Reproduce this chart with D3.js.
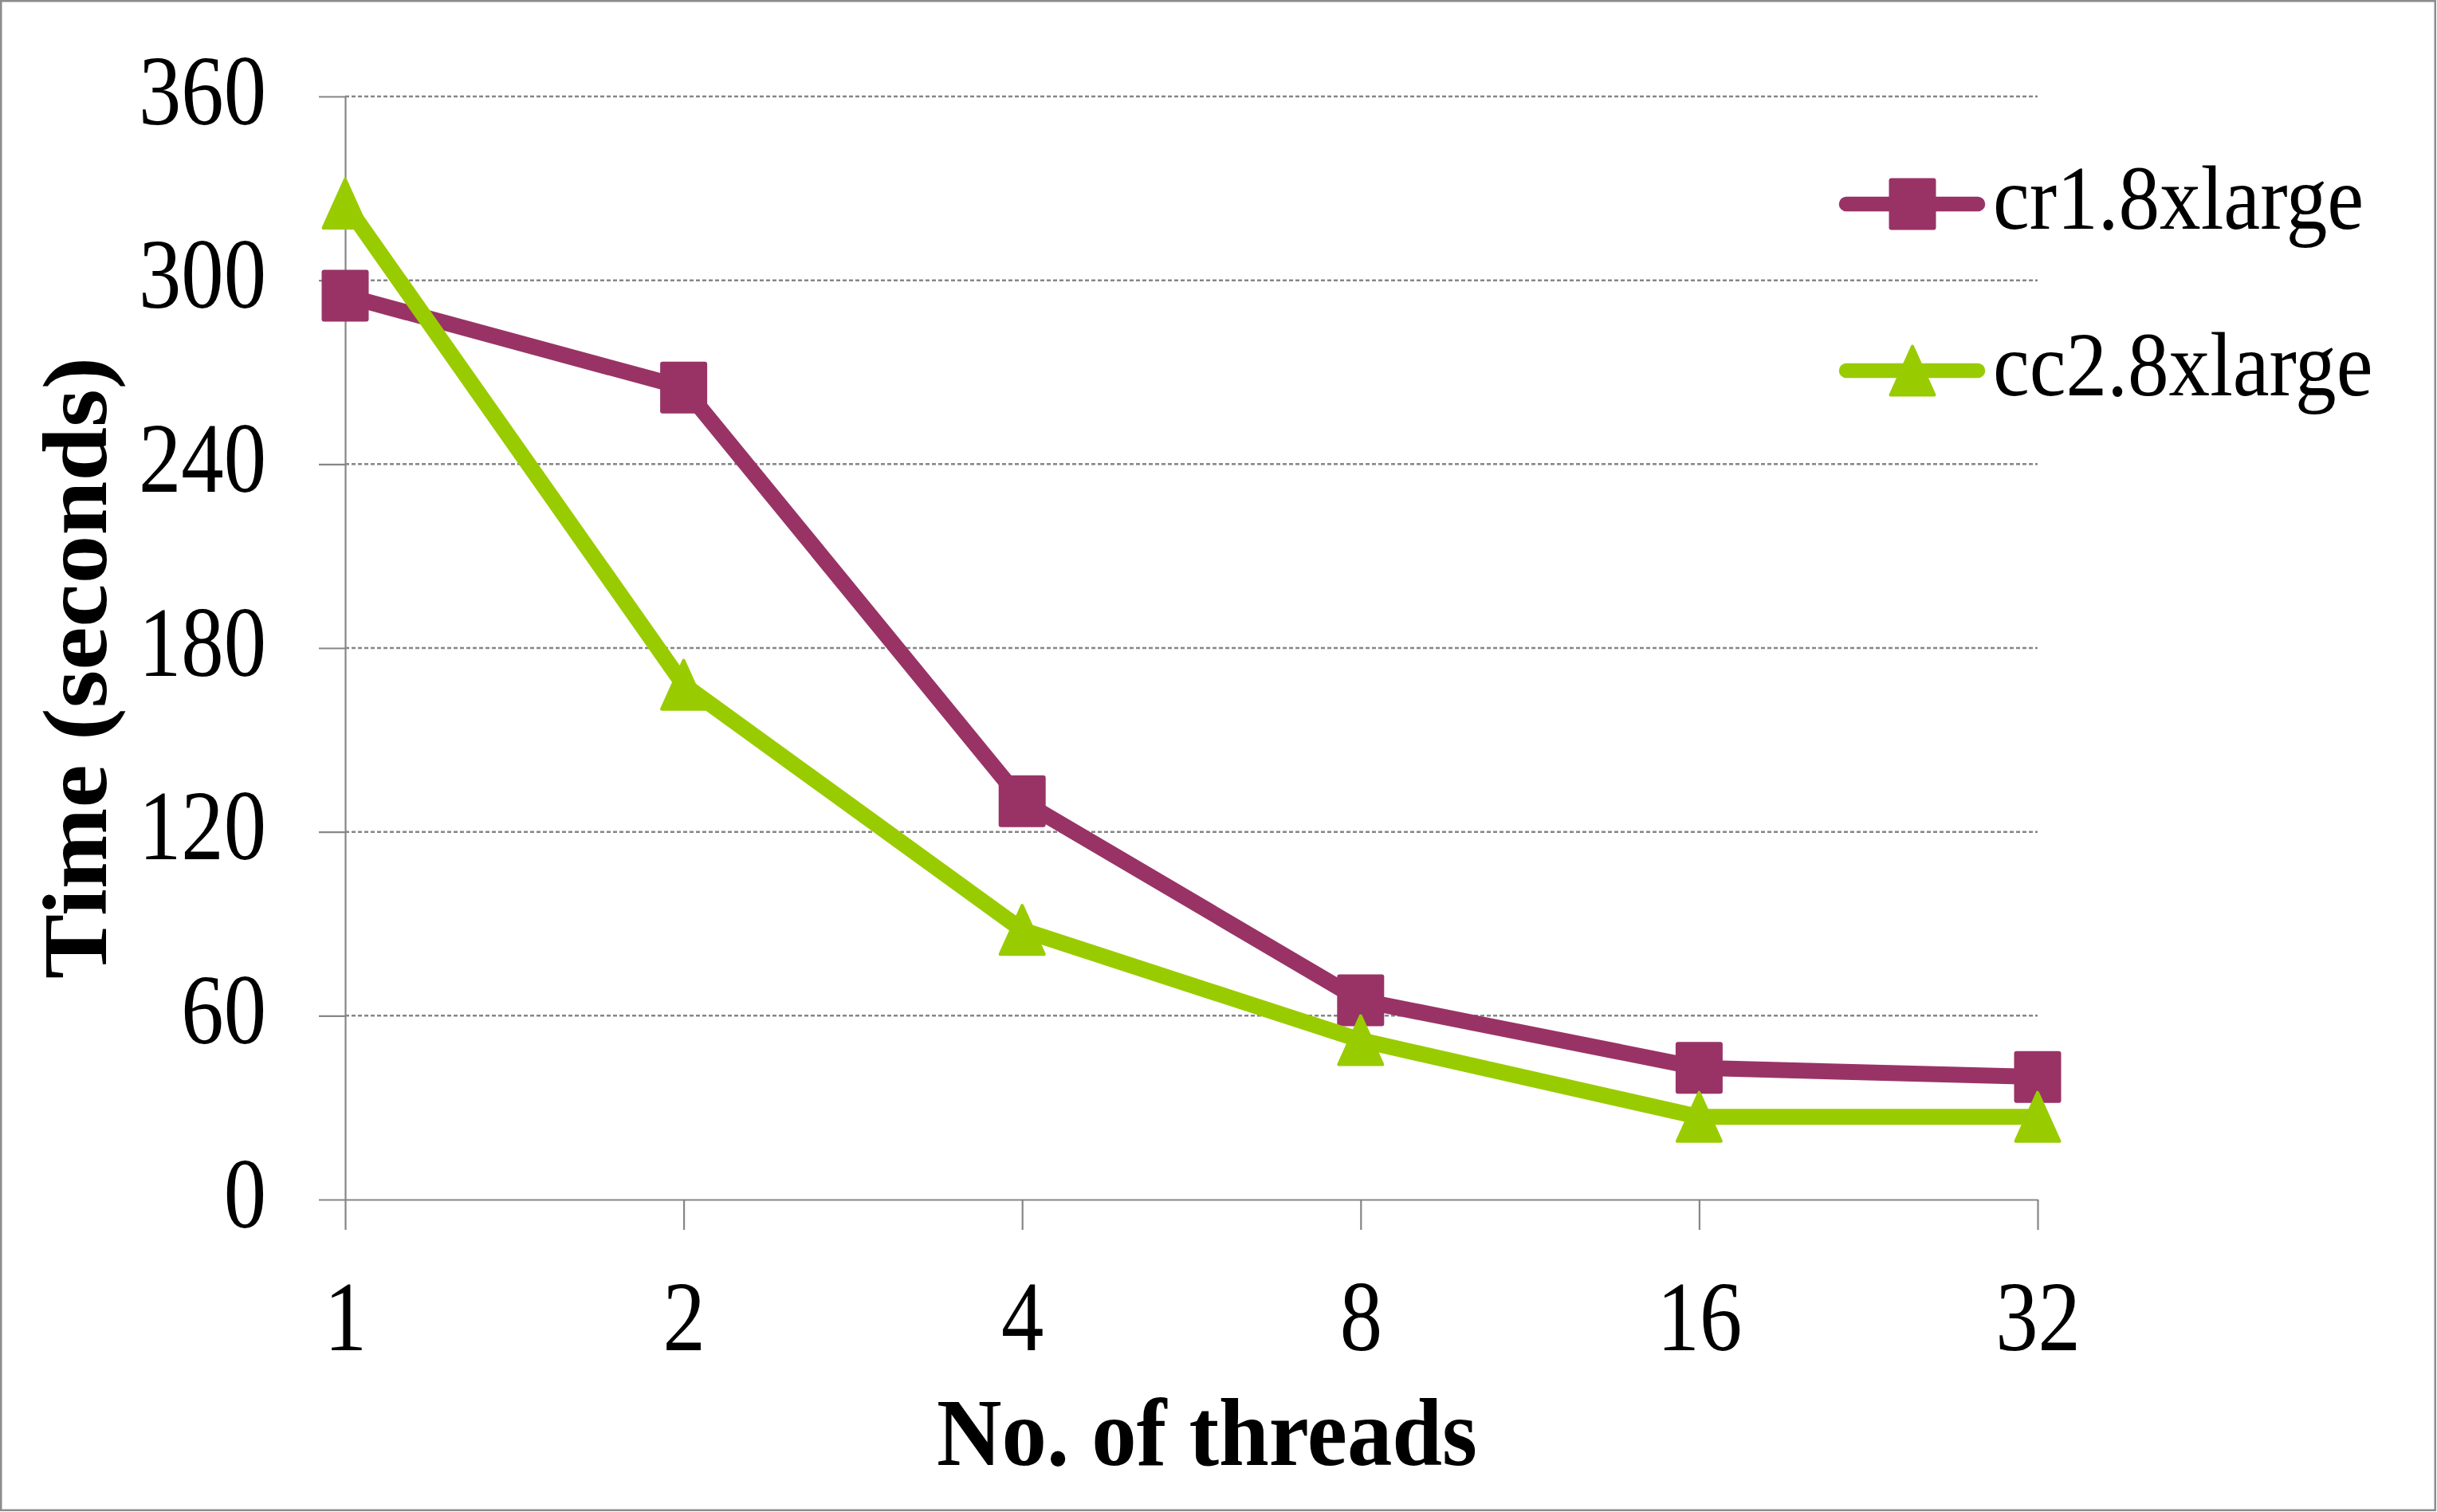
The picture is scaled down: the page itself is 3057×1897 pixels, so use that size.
<!DOCTYPE html>
<html>
<head>
<meta charset="utf-8">
<script src="https://cdn.jsdelivr.net/npm/d3@7/dist/d3.min.js"></script>
<style>
  html, body { margin: 0; padding: 0; background: #fff; }
  svg { display: block; }
  text { font-family: "Liberation Serif", "Times New Roman", serif; fill: #000; }
</style>
</head>
<body>
<svg id="chart" width="3057" height="1897"></svg>
<script>
// ---- data ----
const categories = ["1", "2", "4", "8", "16", "32"];
const seriesNames = ["cr1.8xlarge", "cc2.8xlarge"];
const cr18xlarge = [295, 265, 130, 65, 43, 40];
const cc28xlarge = [325, 168, 88, 52, 27, 27];
const yTicks = [0, 60, 120, 180, 240, 300, 360];
const xTitle = "No. of threads";
const yTitle = "Time (seconds)";

// ---- styles / layout ----
const W = 3057, H = 1897;
const colors = { cr: "#993366", cc: "#99CC00" };
const axisColor = "#868686";

const svg = d3.select("#chart");
svg.append("rect").attr("width", W).attr("height", H).attr("fill", "#fff");
svg.append("rect").attr("x", 1.25).attr("y", 1.25).attr("width", W - 3.5).attr("height", H - 3.5)
  .attr("fill", "none").attr("stroke", "#8c8c8c").attr("stroke-width", 2.5);

const x = d3.scalePoint().domain(categories).range([433, 2556]);
const y = d3.scaleLinear().domain([0, 360]).range([1505, 121]);

// condense text horizontally (reference font is narrower than Liberation Serif)
function condense(sel, f) {
  sel.each(function () {
    const n = this.getComputedTextLength();
    d3.select(this).attr("textLength", n * f).attr("lengthAdjust", "spacingAndGlyphs");
  });
}

// gridlines
svg.append("g").selectAll("line").data(yTicks.filter(d => d > 0)).join("line")
  .attr("x1", x(categories[0])).attr("x2", x(categories[categories.length - 1]))
  .attr("y1", d => y(d)).attr("y2", d => y(d))
  .attr("stroke", axisColor).attr("stroke-width", 2.5).attr("stroke-dasharray", "5,3");

// y axis
const yAxis = svg.append("g").attr("transform", `translate(${x(categories[0])},0)`)
  .call(d3.axisLeft(y).tickValues(yTicks).tickSizeInner(33).tickSizeOuter(0).tickPadding(66));
yAxis.selectAll("path, line").attr("stroke", axisColor).attr("stroke-width", 2.2);
yAxis.selectAll("text").attr("font-size", 124).attr("dy", 34)
  .style("font-family", "'Liberation Serif', serif").attr("fill", "#000");
condense(yAxis.selectAll("text"), 0.86);

// x axis
const xAxis = svg.append("g").attr("transform", `translate(0,${y(0)})`)
  .call(d3.axisBottom(x).tickSizeInner(38).tickSizeOuter(0));
xAxis.selectAll("path, line").attr("stroke", axisColor).attr("stroke-width", 2.2);
xAxis.selectAll("text").attr("font-size", 124).attr("y", 189).attr("dy", 0)
  .style("font-family", "'Liberation Serif', serif").attr("fill", "#000");
condense(xAxis.selectAll("text"), 0.86);

// series
const series = [
  { name: seriesNames[0], values: cr18xlarge, color: colors.cr, marker: "square" },
  { name: seriesNames[1], values: cc28xlarge, color: colors.cc, marker: "triangle" }
];
const MW = 59, MH = 65;

function drawMarker(g, type, cx, cy, color) {
  if (type === "square") {
    g.append("rect").attr("x", cx - MW / 2).attr("y", cy - MH / 2)
      .attr("width", MW).attr("height", MH).attr("rx", 3).attr("fill", color);
  } else {
    const inset = 2;
    const pts = [[cx, cy - MH / 2 + inset], [cx + MW / 2 - inset, cy + MH / 2 - inset], [cx - MW / 2 + inset, cy + MH / 2 - inset]];
    g.append("path").attr("d", "M" + pts.map(p => p.join(",")).join("L") + "Z")
      .attr("fill", color).attr("stroke", color).attr("stroke-width", 4).attr("stroke-linejoin", "round");
  }
}

const line = d3.line().x((d, i) => x(categories[i])).y(d => y(d));
series.forEach(s => {
  const g = svg.append("g");
  g.append("path").datum(s.values).attr("d", line)
    .attr("fill", "none").attr("stroke", s.color).attr("stroke-width", 20)
    .attr("stroke-linejoin", "round");
  s.values.forEach((v, i) => drawMarker(g, s.marker, x(categories[i]), y(v), s.color));
});

// legend
const legendY = [256, 465];
series.forEach((s, i) => {
  const g = svg.append("g");
  g.append("line").attr("x1", 2316).attr("x2", 2481).attr("y1", legendY[i]).attr("y2", legendY[i])
    .attr("stroke", s.color).attr("stroke-width", 18.5).attr("stroke-linecap", "round");
  drawMarker(g, s.marker, 2399, legendY[i], s.color);
  const t = g.append("text").attr("x", 2500).attr("y", legendY[i] + 31)
    .attr("font-size", 114).text(s.name);
  condense(t, 0.905);
});

// axis titles
const xt = svg.append("text").attr("x", 1514).attr("y", 1838).attr("text-anchor", "middle")
  .attr("font-size", 120).attr("font-weight", "bold").text(xTitle);
condense(xt, 0.94);
const yt = svg.append("text").attr("transform", "translate(133,838) rotate(-90)")
  .attr("text-anchor", "middle").attr("font-size", 114).attr("font-weight", "bold").text(yTitle);
condense(yt, 1.07);
</script>
</body>
</html>
